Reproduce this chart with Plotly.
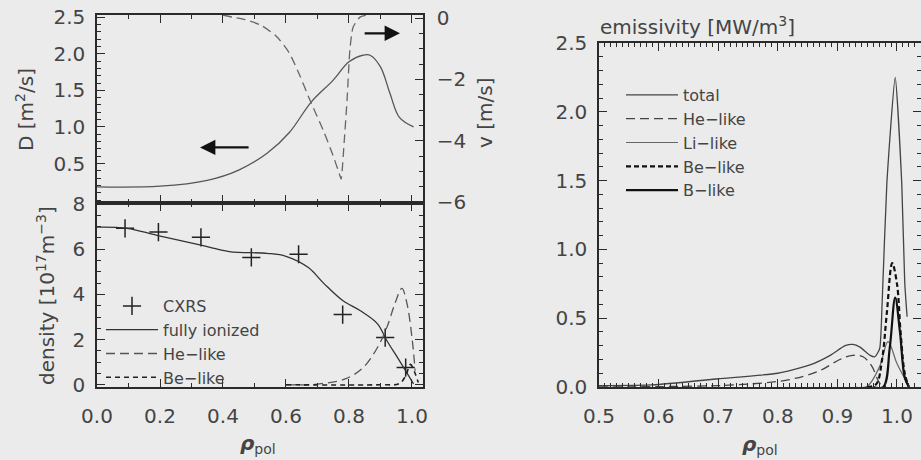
import plotly.graph_objects as go

# --- top left: diffusion coefficient D and drift velocity v
rho_D = [0.0, 0.2, 0.35, 0.45, 0.54, 0.61, 0.68, 0.75, 0.80, 0.845, 0.867, 0.90, 0.93, 0.96, 1.005]
D_val = [0.18, 0.19, 0.27, 0.41, 0.64, 0.92, 1.34, 1.64, 1.89, 1.98, 1.98, 1.82, 1.46, 1.13, 1.0]

rho_v = [0.40, 0.43, 0.47, 0.52, 0.57, 0.61, 0.645, 0.675, 0.72, 0.75, 0.77, 0.775,
         0.785, 0.794, 0.803, 0.813, 0.835, 0.86]
v_val = [0.1, 0.03, -0.05, -0.23, -0.6, -1.13, -1.9, -2.65, -3.7, -4.5, -5.1, -5.25,
         -4.0, -2.65, -1.03, -0.3, 0.03, 0.1]

# --- bottom left: densities
rho_n = [0.0, 0.095, 0.19, 0.33, 0.42, 0.54, 0.60, 0.67, 0.72, 0.78, 0.835, 0.89, 0.92, 0.96, 1.005]
n_full = [6.98, 6.93, 6.62, 6.18, 5.9, 5.82, 5.69, 5.2, 4.49, 3.73, 3.29, 2.71, 1.96, 1.07, 0.04]

rho_cxrs = [0.089, 0.195, 0.33, 0.49, 0.64, 0.78, 0.915, 0.98]
n_cxrs = [6.93, 6.76, 6.53, 5.64, 5.78, 3.11, 2.09, 0.76]

rho_he = [0.6, 0.7, 0.79, 0.845, 0.89, 0.92, 0.946, 0.968, 0.984, 1.0, 1.01]
n_he = [0.0, 0.03, 0.27, 0.76, 1.64, 2.53, 3.6, 4.27, 3.6, 2.09, 0.62]

rho_be = [0.6, 0.9, 0.96, 0.98, 0.995, 1.01, 1.02]
n_be = [0.0, 0.0, 0.05, 0.4, 0.9, 0.5, 0.1]

# --- right: emissivity
rho_tot = [0.5, 0.59, 0.70, 0.80, 0.854, 0.888, 0.913, 0.926, 0.938, 0.955, 0.963, 0.971,
           0.975, 0.983, 0.997, 1.008, 1.013, 1.017]
e_tot = [0.01, 0.015, 0.06, 0.10, 0.16, 0.23, 0.30, 0.31, 0.29, 0.23, 0.22, 0.28,
         0.6, 1.48, 2.25, 1.48, 0.76, 0.51]

rho_ehe = [0.5, 0.6, 0.7, 0.725, 0.815, 0.871, 0.904, 0.926, 0.943, 0.958, 0.968, 0.975]
e_he = [0.0, 0.003, 0.01, 0.015, 0.05, 0.12, 0.2, 0.23, 0.22, 0.15, 0.05, 0.0]

rho_li = [0.93, 0.95, 0.971, 0.985, 1.0, 1.017]
e_li = [0.0, 0.005, 0.15, 0.33, 0.17, 0.03]

rho_ebe = [0.95, 0.965, 0.975, 0.983, 0.992, 1.0, 1.006, 1.013, 1.02]
e_be = [0.0, 0.02, 0.2, 0.54, 0.9, 0.75, 0.4, 0.1, 0.0]

rho_b = [0.96, 0.977, 0.988, 0.997, 1.005, 1.013, 1.02]
e_b = [0.0, 0.0, 0.29, 0.65, 0.4, 0.07, 0.0]

FONT = "DejaVu Sans"
TXT = "#444444"
LN = "#2a2a2a"
BG = "#ebebeb"
W, H = 921, 460


def px(x):
    return x / W


def py(y):
    return 1 - y / H


fig = go.Figure()

# top left
fig.add_trace(go.Scatter(x=rho_D, y=D_val, mode="lines", line=dict(color="#555", width=1.3, shape="spline"),
                         xaxis="x", yaxis="y", showlegend=False))
fig.add_trace(go.Scatter(x=rho_v, y=v_val, mode="lines",
                         line=dict(color="#666", width=1.3, dash="9px,5px", shape="spline", smoothing=0.6),
                         xaxis="x", yaxis="y2", showlegend=False))

# bottom left
fig.add_trace(go.Scatter(x=rho_cxrs, y=n_cxrs, mode="markers", name="CXRS",
                         marker=dict(symbol="cross-thin", size=13, line=dict(color="#222", width=1.5)),
                         xaxis="x2", yaxis="y3", legend="legend"))
fig.add_trace(go.Scatter(x=rho_n, y=n_full, mode="lines", name="fully ionized",
                         line=dict(color="#333", width=1.3, shape="spline"),
                         xaxis="x2", yaxis="y3", legend="legend"))
fig.add_trace(go.Scatter(x=rho_he, y=n_he, mode="lines", name="He−like",
                         line=dict(color="#555", width=1.3, dash="9px,5px", shape="spline"),
                         xaxis="x2", yaxis="y3", legend="legend"))
fig.add_trace(go.Scatter(x=rho_be, y=n_be, mode="lines", name="Be−like",
                         line=dict(color="#222", width=1.6, dash="5px,4px", shape="spline"),
                         xaxis="x2", yaxis="y3", legend="legend"))

# right
fig.add_trace(go.Scatter(x=rho_tot, y=e_tot, mode="lines", name="total",
                         line=dict(color="#444", width=1.3, shape="spline", smoothing=0.5),
                         xaxis="x3", yaxis="y4", legend="legend2"))
fig.add_trace(go.Scatter(x=rho_ehe, y=e_he, mode="lines", name="He−like",
                         line=dict(color="#444", width=1.3, dash="9px,5px", shape="spline"),
                         xaxis="x3", yaxis="y4", legend="legend2"))
fig.add_trace(go.Scatter(x=rho_li, y=e_li, mode="lines", name="Li−like",
                         line=dict(color="#666", width=1.2, shape="spline"),
                         xaxis="x3", yaxis="y4", legend="legend2"))
fig.add_trace(go.Scatter(x=rho_ebe, y=e_be, mode="lines", name="Be−like",
                         line=dict(color="#111", width=2.2, dash="5px,3px", shape="spline"),
                         xaxis="x3", yaxis="y4", legend="legend2"))
fig.add_trace(go.Scatter(x=rho_b, y=e_b, mode="lines", name="B−like",
                         line=dict(color="#111", width=2.2, shape="spline"),
                         xaxis="x3", yaxis="y4", legend="legend2"))

tickfont = dict(family=FONT, size=20, color=TXT)
common = dict(showline=True, linecolor=LN, linewidth=1.5, ticks="inside", tickcolor=LN,
              ticklen=8, tickwidth=1.2, showgrid=False, zeroline=False, tickfont=tickfont,
              automargin=False)


def minor(d):
    return dict(ticks="inside", ticklen=4, tickcolor=LN, dtick=d, tick0=0, showgrid=False)


xl = [0.0, 0.2, 0.4, 0.6, 0.8, 1.0]
dom_l = [px(97), px(423)]
fig.update_layout(
    xaxis=dict(domain=dom_l, anchor="y", range=[0, 1.035], tickvals=xl, showticklabels=False,
               mirror="ticks", minor=minor(0.1), **common),
    yaxis=dict(domain=[py(203), py(15)], anchor="x", range=[-0.04, 2.53],
               tickvals=[0.5, 1.0, 1.5, 2.0, 2.5], tickformat=".1f", ticklabelstandoff=6,
               minor=minor(0.1), **common),
    yaxis2=dict(overlaying="y", side="right", anchor="x", range=[-6.03, 0.1],
                tickvals=[0, -2, -4, -6], ticklabelstandoff=8, minor=minor(0.5), **common),
    xaxis2=dict(domain=dom_l, anchor="y3", range=[0, 1.035], tickvals=xl, tickformat=".1f",
                mirror="ticks", ticklabelstandoff=10, minor=minor(0.1), **common),
    yaxis3=dict(domain=[py(387), py(203)], anchor="x2", range=[-0.1, 8.05],
                tickvals=[0, 2, 4, 6, 8], mirror="ticks", ticklabelstandoff=6,
                minor=minor(0.5), **common),
    xaxis3=dict(domain=[px(599), 1.0], anchor="y4", range=[0.5, 1.0403],
                tickvals=[0.5, 0.6, 0.7, 0.8, 0.9, 1.0], tickformat=".1f", mirror="ticks",
                ticklabelstandoff=10, minor=minor(0.01), **common),
    yaxis4=dict(domain=[py(387), py(43)], anchor="x3", range=[0, 2.5],
                tickvals=[0.0, 0.5, 1.0, 1.5, 2.0, 2.5], tickformat=".1f", mirror="ticks",
                ticklabelstandoff=6, minor=minor(0.1), **common),
)

legfont = dict(family=FONT, size=16, color=TXT)
fig.update_layout(
    legend=dict(x=px(101), y=py(289), xanchor="left", yanchor="top", bgcolor="rgba(0,0,0,0)",
                font=legfont, tracegroupgap=0, itemwidth=52),
    legend2=dict(x=px(621), y=py(78), xanchor="left", yanchor="top", bgcolor="rgba(0,0,0,0)",
                 font=legfont, tracegroupgap=0, itemwidth=52),
)

titlefont = dict(family=FONT, size=20, color=TXT)
ann = [
    dict(text="D [m<sup>2</sup>/s]", x=px(25), y=py(110), textangle=-90),
    dict(text="v [m/s]", x=px(485), y=py(113), textangle=-90),
    dict(text="density [10<sup>17</sup>m<sup>−3</sup>]", x=px(46), y=py(296), textangle=-90),
    dict(text="<b><i>ρ</i></b><sub>pol</sub>", x=px(258), y=py(444)),
    dict(text="<b><i>ρ</i></b><sub>pol</sub>", x=px(760), y=py(445)),
    dict(text="emissivity [MW/m<sup>3</sup>]", x=px(598), y=py(26), xanchor="left"),
]
for a in ann:
    a.setdefault("xanchor", "center")
    fig.add_annotation(xref="paper", yref="paper", showarrow=False, yanchor="middle",
                       font=titlefont, **a)

# direction arrows (D -> left axis, v -> right axis)
fig.add_annotation(x=0.327, y=0.72, ax=0.486, ay=0.72, xref="x", yref="y", axref="x", ayref="y",
                   text="", showarrow=True, arrowhead=2, arrowsize=1.4, arrowwidth=2.2,
                   arrowcolor="#111")
fig.add_annotation(x=0.962, y=2.28, ax=0.845, ay=2.28, xref="x", yref="y", axref="x", ayref="y",
                   text="", showarrow=True, arrowhead=2, arrowsize=1.4, arrowwidth=2.2,
                   arrowcolor="#111")

fig.update_layout(
    width=W, height=H,
    margin=dict(l=0, r=0, t=0, b=0),
    paper_bgcolor=BG,
    plot_bgcolor=BG,
    font=dict(family=FONT, color=TXT),
)

# page has a default body margin; drop it so the figure sits at the window origin
fig.write_html("out.html", config={"displayModeBar": False},
               post_script="document.body.style.margin='0';document.body.style.background='%s';" % BG)
